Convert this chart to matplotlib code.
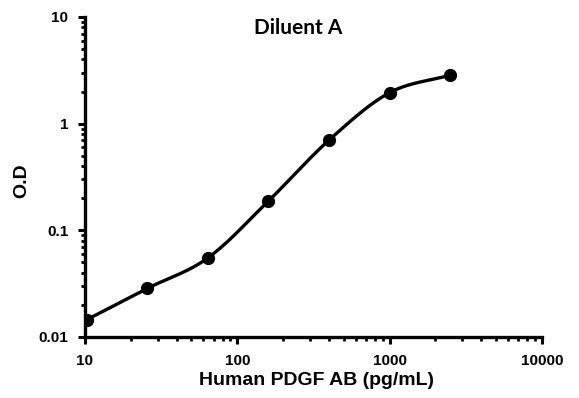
import matplotlib
matplotlib.use("Agg")
import matplotlib.pyplot as plt
import numpy as np
from matplotlib.ticker import LogLocator, NullFormatter, FixedLocator, FixedFormatter

# standard curve, Diluent A
conc = [10.24, 25.6, 64, 160, 400, 1000, 2500]
od = [0.0145, 0.0285, 0.055, 0.188, 0.70, 1.95, 2.85]

x_ticks = [10, 100, 1000, 10000]
x_labels = ["10", "100", "1000", "10000"]
y_ticks = [0.01, 0.1, 1, 10]
y_labels = ["0.01", "0.1", "1", "10"]


def smooth_curve(xs, ys, n=30):
    """Catmull-Rom dans l'espace log-log, comme la ligne lissee d'Excel"""
    lx = np.log10(xs)
    ly = np.log10(ys)
    px = np.concatenate([[2 * lx[0] - lx[1]], lx, [2 * lx[-1] - lx[-2]]])
    py = np.concatenate([[2 * ly[0] - ly[1]], ly, [2 * ly[-1] - ly[-2]]])
    out_x, out_y = [], []
    t = np.linspace(0, 1, n)
    for i in range(1, len(px) - 2):
        for p, out in ((px, out_x), (py, out_y)):
            p0, p1, p2, p3 = p[i - 1], p[i], p[i + 1], p[i + 2]
            seg = 0.5 * ((2 * p1) + (-p0 + p2) * t
                         + (2 * p0 - 5 * p1 + 4 * p2 - p3) * t ** 2
                         + (-p0 + 3 * p1 - 3 * p2 + p3) * t ** 3)
            out.extend(seg)
    return 10 ** np.array(out_x), 10 ** np.array(out_y)


plt.rcParams['font.family'] = ['Liberation Sans', 'DejaVu Sans']
plt.rcParams['font.weight'] = 'bold'

fig = plt.figure(figsize=(5.79, 3.98), dpi=100)
ax = fig.add_axes([0.1468, 0.1533, 0.789, 0.804])

sx, sy = smooth_curve(conc, od)
ax.plot(sx, sy, color="black", lw=2.4, solid_capstyle="round")
ax.plot(conc, od, "o", color="black", markersize=8.5)

ax.set_xscale("log")
ax.set_yscale("log")
ax.set_xlim(10, 10000)
ax.set_ylim(0.01, 10)

for s in ("top", "right"):
    ax.spines[s].set_visible(False)
for s in ("left", "bottom"):
    ax.spines[s].set_linewidth(2.4)

ax.xaxis.set_major_locator(FixedLocator(x_ticks))
ax.xaxis.set_major_formatter(FixedFormatter(x_labels))
ax.yaxis.set_major_locator(FixedLocator(y_ticks))
ax.yaxis.set_major_formatter(FixedFormatter(y_labels))
ax.xaxis.set_minor_locator(LogLocator(base=10, subs=np.arange(2, 10)))
ax.yaxis.set_minor_locator(LogLocator(base=10, subs=np.arange(2, 10)))
ax.xaxis.set_minor_formatter(NullFormatter())
ax.yaxis.set_minor_formatter(NullFormatter())

ax.tick_params(which="major", direction="out", length=5, width=2.2,
               labelsize=11, pad=7)
ax.tick_params(which="minor", direction="out", length=3, width=2.0)

ax.set_xlabel("Human PDGF AB (pg/mL)", fontweight="bold", fontsize=14)
ax.xaxis.set_label_coords(0.506, -0.11)
ax.set_ylabel("O.D", fontweight="bold", fontsize=14)
ax.yaxis.set_label_coords(-0.12, 0.49)
ax.text(0.466, 0.966, "Diluent A", transform=ax.transAxes, ha="center",
        va="center", fontfamily="Lato", fontweight="bold", fontsize=15)

fig.savefig("out.png", dpi=100)
